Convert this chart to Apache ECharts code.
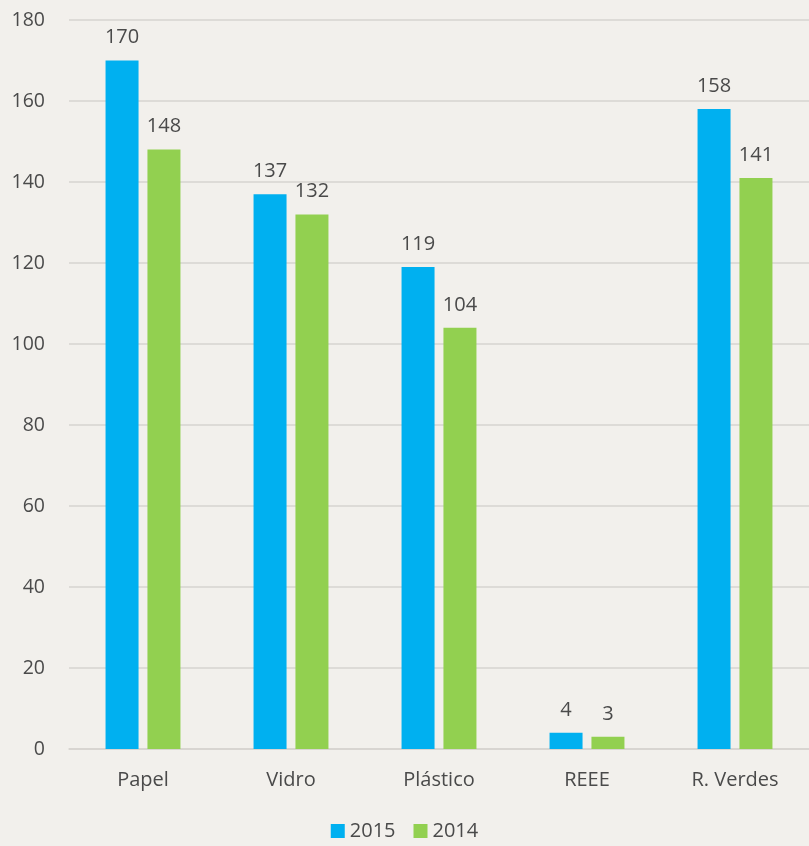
<!DOCTYPE html>
<html><head><meta charset="utf-8">
<script src="https://cdn.jsdelivr.net/npm/echarts@6/dist/echarts.min.js"></script>
<style>html,body{margin:0;padding:0;background:#f2f0ec;}#c{width:809px;height:846px;}</style>
</head><body><div id="c"></div>
<script>
const categories = ['Papel', 'Vidro', 'Plástico', 'REEE', 'R. Verdes'];
const values2015 = [170, 137, 119, 4, 158];
const values2014 = [148, 132, 104, 3, 141];
const seriesNames = ['2015', '2014'];

const chart = echarts.init(document.getElementById('c'));
const font = '"Open Sans", Lato, sans-serif';
const txt = '#4a4a4a';
chart.setOption({
  backgroundColor: '#f2f0ec',
  textStyle: {fontFamily: font},
  grid: {left: 69, right: 0, top: 20, bottom: 97},
  legend: {
    bottom: 0, left: 'center', itemWidth: 14, itemHeight: 14, itemGap: 18,
    icon: 'rect',
    textStyle: {color: txt, fontSize: 20, fontFamily: font},
    data: seriesNames
  },
  xAxis: {
    type: 'category', data: categories,
    axisLine: {lineStyle: {color: '#d6d4d0', width: 1.5}},
    axisTick: {show: false},
    axisLabel: {color: txt, fontSize: 20, margin: 21, fontFamily: font}
  },
  yAxis: {
    type: 'value', min: 0, max: 180, interval: 20,
    axisLine: {show: false}, axisTick: {show: false},
    axisLabel: {color: txt, fontSize: 19.5, margin: 24, fontFamily: font},
    splitLine: {lineStyle: {color: '#d6d4d0', width: 1.5}}
  },
  series: [
    {name: seriesNames[0], type: 'bar', data: values2015, barWidth: 33, barGap: '27%',
     itemStyle: {color: '#00b0f0'},
     label: {show: true, position: 'top', distance: 13, color: txt, fontSize: 20, fontFamily: font}},
    {name: seriesNames[1], type: 'bar', data: values2014, barWidth: 33,
     itemStyle: {color: '#92d050'},
     label: {show: true, position: 'top', distance: 13, color: txt, fontSize: 20, fontFamily: font}}
  ]
});
</script></body></html>
